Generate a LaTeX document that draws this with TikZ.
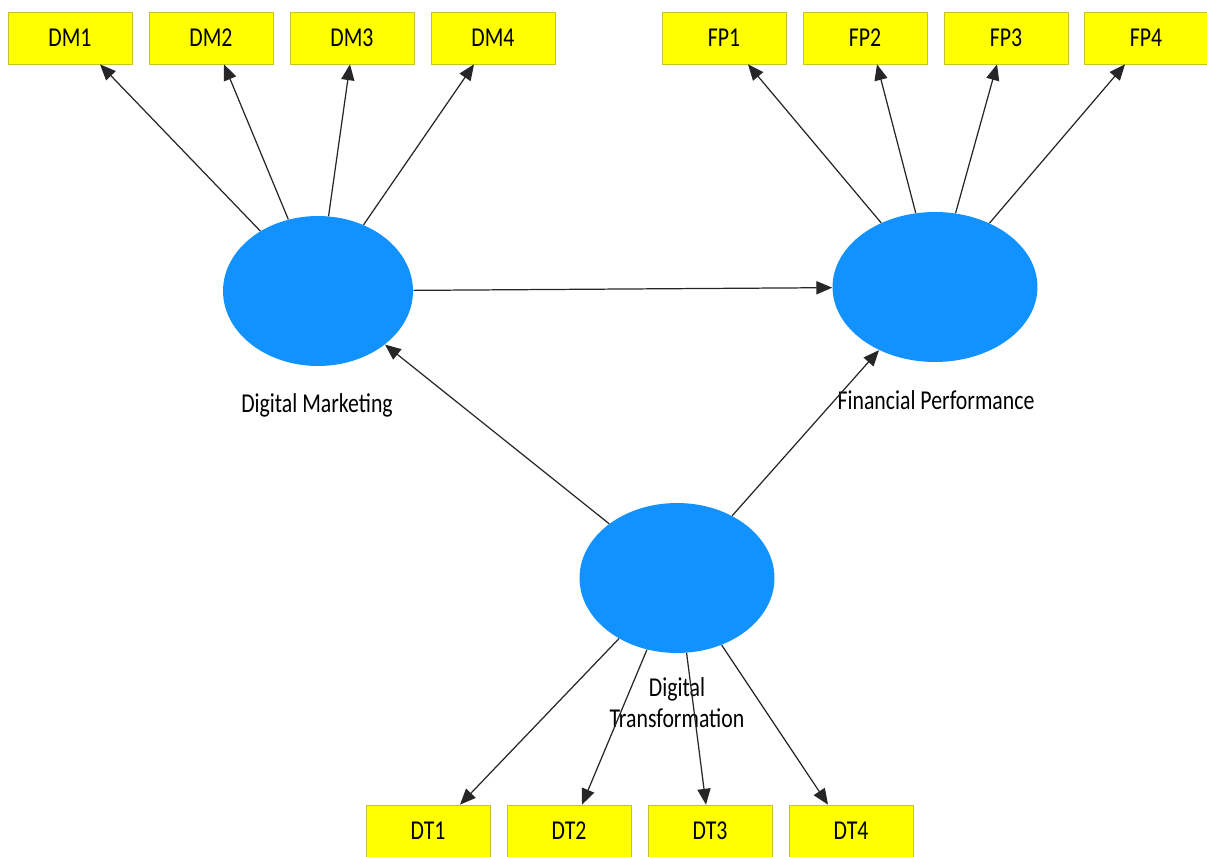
\documentclass[tikz,border=0pt]{standalone}
\usepackage{fontspec}
\setmainfont{Carlito}
\usetikzlibrary{shapes.geometric,arrows.meta}

\definecolor{itemfill}{RGB}{255,255,0}
\definecolor{itemedge}{RGB}{196,196,40}
\definecolor{latentfill}{RGB}{18,146,255}
\newcommand\pmfont{\fontsize{12.4}{14}\selectfont}
\newcommand\pmtext[1]{\scalebox{1}[1.25]{#1}}
\tikzset{
  itembox/.style={draw=itemedge, fill=itemfill, minimum width=2.48cm,
    minimum height=1.04cm, inner sep=0pt, font=\pmfont},
  latent/.style={ellipse, fill=latentfill, minimum height=3cm, inner sep=0pt},
  latentlabel/.style={font=\pmfont, align=center},
  link/.style={draw=black!85, line width=0.7pt, -{Triangle[length=9pt,width=7.5pt]}}
}

\begin{document}
\begin{tikzpicture}[x=0.02cm, y=-0.02cm]
  \useasboundingbox (0,0) rectangle (1207,857);
  % constructs
  \node[latent, minimum width=3.8cm] (dm) at (318,291) {};
  \node[latent, minimum width=4.1cm] (fp) at (935,287) {};
  \node[latent, minimum width=3.9cm] (dt) at (677,578) {};
  \node[latentlabel] (dmlabel) at (317,405) {\pmtext{Digital Marketing}};
  \node[latentlabel] (fplabel) at (936,400) {\pmtext{Financial Performance}};
  \node[latentlabel] (dtlabel) at (677,706)
    {\pmtext{\begin{tabular}{@{}c@{}}Digital\\Transformation\end{tabular}}};
  % indicators
  \node[itembox] (DM1) at (70,38)  {\pmtext{DM1}};
  \node[itembox] (DM2) at (211,38) {\pmtext{DM2}};
  \node[itembox] (DM3) at (352,38) {\pmtext{DM3}};
  \node[itembox] (DM4) at (493,38) {\pmtext{DM4}};
  \node[itembox] (FP1) at (724,38)  {\pmtext{FP1}};
  \node[itembox] (FP2) at (865,38)  {\pmtext{FP2}};
  \node[itembox] (FP3) at (1006,38) {\pmtext{FP3}};
  \node[itembox] (FP4) at (1146,38) {\pmtext{FP4}};
  \node[itembox] (DT1) at (428,831) {\pmtext{DT1}};
  \node[itembox] (DT2) at (569,831) {\pmtext{DT2}};
  \node[itembox] (DT3) at (710,831) {\pmtext{DT3}};
  \node[itembox] (DT4) at (851,831) {\pmtext{DT4}};
  % loadings
  \draw[link] (dm) -- ([xshift=0.6cm]DM1.south);
  \draw[link] (dm) -- ([xshift=0.26cm]DM2.south);
  \draw[link] (dm) -- ([xshift=-0.04cm]DM3.south);
  \draw[link] (dm) -- ([xshift=-0.38cm]DM4.south);
  \draw[link] (fp) -- ([xshift=0.48cm]FP1.south);
  \draw[link] (fp) -- ([xshift=0.24cm]FP2.south);
  \draw[link] (fp) -- ([xshift=-0.18cm]FP3.south);
  \draw[link] (fp) -- ([xshift=-0.42cm]FP4.south);
  \draw[link] (dt) -- ([xshift=0.64cm]DT1.north);
  \draw[link] (dt) -- ([xshift=0.26cm]DT2.north);
  \draw[link] (dt) -- ([xshift=-0.08cm]DT3.north);
  \draw[link] (dt) -- ([xshift=-0.46cm]DT4.north);
  % structural paths
  \draw[link] (dm) -- (fp);
  \draw[link] (dt) -- (dm);
  \draw[link] (dt) -- (fp);
\end{tikzpicture}
\end{document}
